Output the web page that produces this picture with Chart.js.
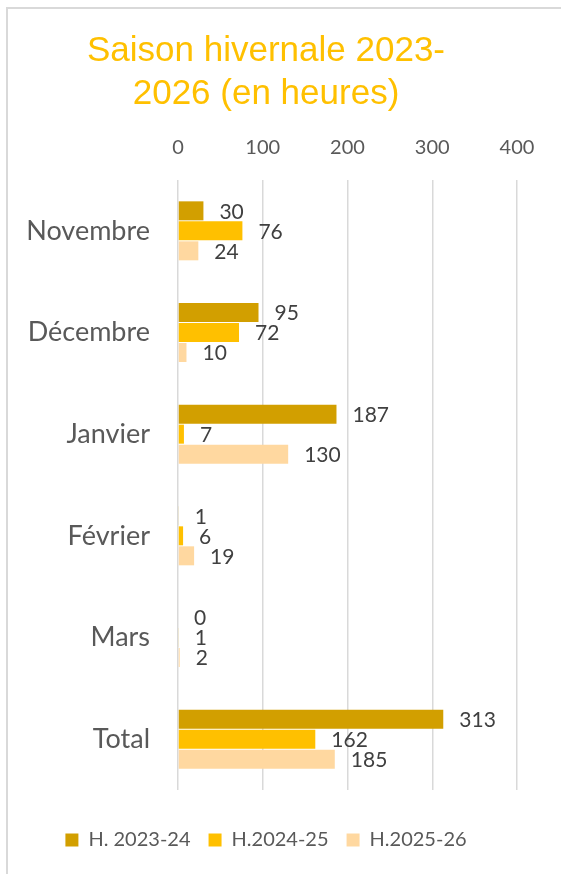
<!DOCTYPE html>
<html>
<head>
<meta charset="utf-8">
<script src="https://cdn.jsdelivr.net/npm/chart.js@4/dist/chart.umd.min.js"></script>
<style>
  html, body { margin: 0; padding: 0; background: #ffffff; }
  #wrap { width: 561px; height: 874px; }
</style>
</head>
<body>
<div id="wrap"><canvas id="c" width="561" height="874"></canvas></div>
<script>
// Monthly hours per winter season
const months = ['Novembre', 'Décembre', 'Janvier', 'Février', 'Mars', 'Total'];
const season2324 = [30, 95, 187, 1, 0, 313];
const season2425 = [76, 72, 7, 6, 1, 162];
const season2526 = [24, 10, 130, 19, 2, 185];
const seriesNames = ['H. 2023-24', 'H.2024-25', 'H.2025-26'];
const axisTicks = [0, 100, 200, 300, 400];

const colors = ['#D29F00', '#FFC000', '#FFD8A0'];
const textGrey = '#595959';

// Light grey frame around the chart
const framePlugin = {
  id: 'frame',
  beforeDraw(chart) {
    const ctx = chart.ctx;
    ctx.save();
    ctx.strokeStyle = '#d9d9d9';
    ctx.lineWidth = 2;
    ctx.beginPath();
    ctx.moveTo(7, 874);
    ctx.lineTo(7, 8);
    ctx.lineTo(561, 8);
    ctx.stroke();
    ctx.restore();
  }
};

// Value labels to the right of each bar
const valueLabels = {
  id: 'valueLabels',
  afterDatasetsDraw(chart) {
    const ctx = chart.ctx;
    ctx.save();
    ctx.font = '21px Lato';
    ctx.fillStyle = '#404040';
    ctx.textAlign = 'left';
    ctx.textBaseline = 'middle';
    chart.data.datasets.forEach((ds, i) => {
      const meta = chart.getDatasetMeta(i);
      meta.data.forEach((bar, j) => {
        ctx.fillText(String(ds.data[j]), bar.x + 16, bar.y + 1);
      });
    });
    ctx.restore();
  }
};

new Chart(document.getElementById('c'), {
  type: 'bar',
  data: {
    labels: months,
    datasets: [
      { label: seriesNames[0], data: season2324, backgroundColor: colors[0], borderWidth: 0 },
      { label: seriesNames[1], data: season2425, backgroundColor: colors[1], borderWidth: 0 },
      { label: seriesNames[2], data: season2526, backgroundColor: colors[2], borderWidth: 0 }
    ]
  },
  options: {
    responsive: false,
    animation: false,
    indexAxis: 'y',
    layout: { padding: { left: 15, right: 44, top: 0, bottom: 14 } },
    datasets: { bar: { categoryPercentage: 0.59, barPercentage: 0.95 } },
    scales: {
      x: {
        position: 'top',
        min: 0,
        max: 400,
        afterBuildTicks(scale) { scale.ticks = axisTicks.map(v => ({ value: v })); },
        afterFit(scale) { scale.height = 54; },
        grid: { color: '#d9d9d9', lineWidth: 1.5, drawTicks: false },
        border: { display: false },
        ticks: { padding: 20, color: textGrey, font: { family: 'Lato', size: 20 } }
      },
      xb: {
        type: 'linear',
        position: 'bottom',
        axis: 'x',
        display: true,
        grid: { display: false, drawTicks: false },
        border: { display: false },
        ticks: { display: false },
        afterFit(scale) { scale.height = 22; }
      },
      y: {
        afterFit(scale) { scale.width = 163; },
        grid: { display: false, drawTicks: false },
        border: { display: false },
        ticks: { padding: 28, color: textGrey, font: { family: 'Lato', size: 27 } }
      }
    },
    plugins: {
      title: {
        display: true,
        text: ['Saison hivernale 2023-', '2026 (en heures)'],
        color: '#FFC000',
        font: { family: 'Liberation Sans', size: 35, weight: 'normal', lineHeight: '43px' },
        padding: { top: 30, bottom: 10 }
      },
      legend: {
        position: 'bottom',
        labels: {
          color: textGrey,
          font: { family: 'Lato', size: 20 },
          boxWidth: 13,
          boxHeight: 13,
          padding: 18
        }
      },
      tooltip: { enabled: false }
    }
  },
  plugins: [framePlugin, valueLabels]
});
</script>
</body>
</html>
